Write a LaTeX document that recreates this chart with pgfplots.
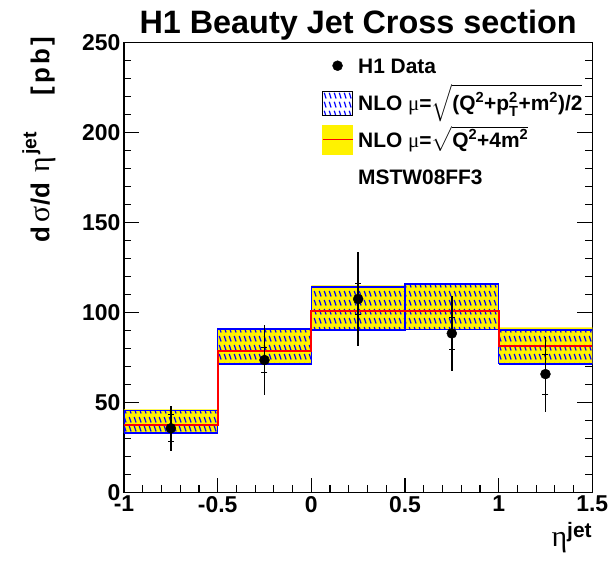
\documentclass[border=0pt]{standalone}
\usepackage{pgfplots}
\pgfplotsset{compat=1.18}
\usepackage{pgfplotstable}
\usepackage{amsmath}
\usepackage{fontspec}
\setmainfont{Liberation Sans}
\newfontfamily\grk{Liberation Serif}
\usetikzlibrary{patterns.meta}

% ROOT-like hatch: short backslash strokes in rows
\tikzdeclarepattern{
  name=roothatch,
  type=uncolored,
  bounding box={(0bp,0bp) and (5.4bp,9bp)},
  tile size={(5.4bp,9bp)},
  code={\draw[line width=1.3bp] (1.4bp,7.8bp) -- (3.4bp,1.6bp);}
}

% data points: x, y, stat error, total error
\pgfplotstableread{
x     y      stat  tot
-0.75 35.8   7.5   12.5
-0.25 73.7   7.0   19.2
0.25  107.6  8.7   26.0
0.75  88.5   9.0   20.9
1.25  65.9   11.1  20.8
}\hdata

\begin{document}
\begin{tikzpicture}
\useasboundingbox (-124bp,-75.3bp) rectangle (487bp,492.7bp);
\begin{axis}[
  scale only axis,
  width=468.3bp, height=450bp,
  xmin=-1, xmax=1.5,
  ymin=0, ymax=250,
  xtick={-1,-0.5,0,0.5,1,1.5},
  ytick={0,50,100,150,200,250},
  minor x tick num=4,
  minor y tick num=4,
  xtick pos=left,
  ytick pos=both,
  yticklabel pos=left,
  tick align=inside,
  major tick length=15bp,
  minor tick length=7.5bp,
  axis line style={line width=1.2bp},
  every tick/.append style={black, line width=1.2bp},
  /pgf/number format/assume math mode=true,
  ticklabel style={font=\fontsize{23}{23}\selectfont\bfseries},
  title={H1 Beauty Jet Cross section},
  title style={font=\fontsize{32.5}{32.5}\selectfont\bfseries,
    at={(axis description cs:0.5,1)}, anchor=base, yshift=3.7bp, inner sep=0pt},
  ylabel={d\hspace{4bp}{\grk\mdseries\fontsize{30}{30}\selectfont σ}\hspace{1bp}/d\hspace{10bp}{\grk\mdseries\fontsize{30}{30}\selectfont η}\hspace{2bp}\raisebox{0.5em}{\fontsize{19.5}{19.5}\selectfont jet}\hspace{37bp}[\hspace{3bp}p\hspace{3bp}b\hspace{3bp}]},
  ylabel style={font=\fontsize{26}{26}\selectfont\bfseries,
    at={(axis description cs:-0.1815,1.0127)}, anchor=east, inner sep=0pt},
  xlabel={{\grk\mdseries η}\textsuperscript{jet}},
  xlabel style={font=\fontsize{30}{30}\selectfont\bfseries,
    at={(axis description cs:1,-0.065)}, anchor=north east, inner sep=0pt},
  legend cell align=left,
  legend style={at={(axis description cs:0.4222,0.9904)}, anchor=north west,
    draw=none, fill=none, inner sep=0pt, column sep=5bp,
    font=\fontsize{21}{21}\selectfont\bfseries,
    nodes={inner sep=0pt, text height=15bp, text depth=0bp, minimum height=37bp}},
  unbounded coords=jump,
]

% legend
\addlegendimage{legend image code/.code={\fill[black] (15bp,0bp) circle (5bp);}}
\addlegendentry{H1 Data}
\addlegendimage{legend image code/.code={\fill[pattern=roothatch, pattern color=blue] (0bp,-12bp) rectangle (30bp,12bp);}}
\addlegendentry{NLO {\grk\mdseries μ}=$\sqrt{\text{(Q$^{\text{2}}$+p$^{\text{2}}_{\text{T}}$+m$^{\text{2}}$)/2}}$}
\addlegendimage{legend image code/.code={\fill[yellow] (0bp,-14.3bp) rectangle (30bp,14.3bp);
  \draw[red, line width=1.3bp] (0bp,0bp) -- (30bp,0bp);}}
\addlegendentry{NLO {\grk\mdseries μ}=$\sqrt{\text{Q$^{\text{2}}$+4m$^{\text{2}}$}}$}
\addlegendimage{empty legend}
\addlegendentry{MSTW08FF3}

% yellow band, mu = sqrt(Q^2+4m^2)
\addplot[forget plot, fill=yellow, draw=none] coordinates {
  (-1,33.3) (-1,46.3) (-0.5,46.3) (-0.5,33.3) (-1,33.3) (nan,nan)
  (-0.5,71.5) (-0.5,91.3) (0,91.3) (0,71.5) (-0.5,71.5) (nan,nan)
  (0,90.4) (0,115.2) (0.5,115.2) (0.5,90.4) (0,90.4) (nan,nan)
  (0.5,90.8) (0.5,115.9) (1,115.9) (1,90.8) (0.5,90.8) (nan,nan)
  (1,71.5) (1,91.9) (1.5,91.9) (1.5,71.5) (1,71.5)
};

% blue hatched band, mu = sqrt((Q^2+pT^2+m^2)/2)
\addplot[forget plot, pattern=roothatch, pattern color=blue, draw=blue, line width=1.5bp] coordinates {
  (-1,33.3) (-1,45.8) (-0.5,45.8) (-0.5,33.3) (-1,33.3) (nan,nan)
  (-0.5,71.5) (-0.5,90.9) (0,90.9) (0,71.5) (-0.5,71.5) (nan,nan)
  (0,90.4) (0,114.4) (0.5,114.4) (0.5,90.4) (0,90.4) (nan,nan)
  (0.5,90.8) (0.5,115.9) (1,115.9) (1,90.8) (0.5,90.8) (nan,nan)
  (1,71.5) (1,90.4) (1.5,90.4) (1.5,71.5) (1,71.5)
};

% central NLO prediction
\addplot[forget plot, red, line width=1.8bp, const plot] coordinates {
  (-1,37.4) (-0.5,78.9) (0,100.9) (0.5,100.9) (1,81.5) (1.5,81.5)
};

% H1 data, total errors
\addplot[forget plot, black, only marks, mark=*, mark size=5bp,
  error bars/.cd, y dir=both, y explicit, error mark=none,
  error bar style={line width=1.6bp}]
  table[x=x, y=y, y error=tot] {\hdata};
% statistical error ticks
\addplot[forget plot, black, only marks, mark=none,
  error bars/.cd, y dir=both, y explicit,
  error bar style={line width=1bp},
  error mark options={rotate=90, mark size=3bp, line width=1bp}]
  table[x=x, y=y, y error=stat] {\hdata};

\end{axis}
\end{tikzpicture}
\end{document}
